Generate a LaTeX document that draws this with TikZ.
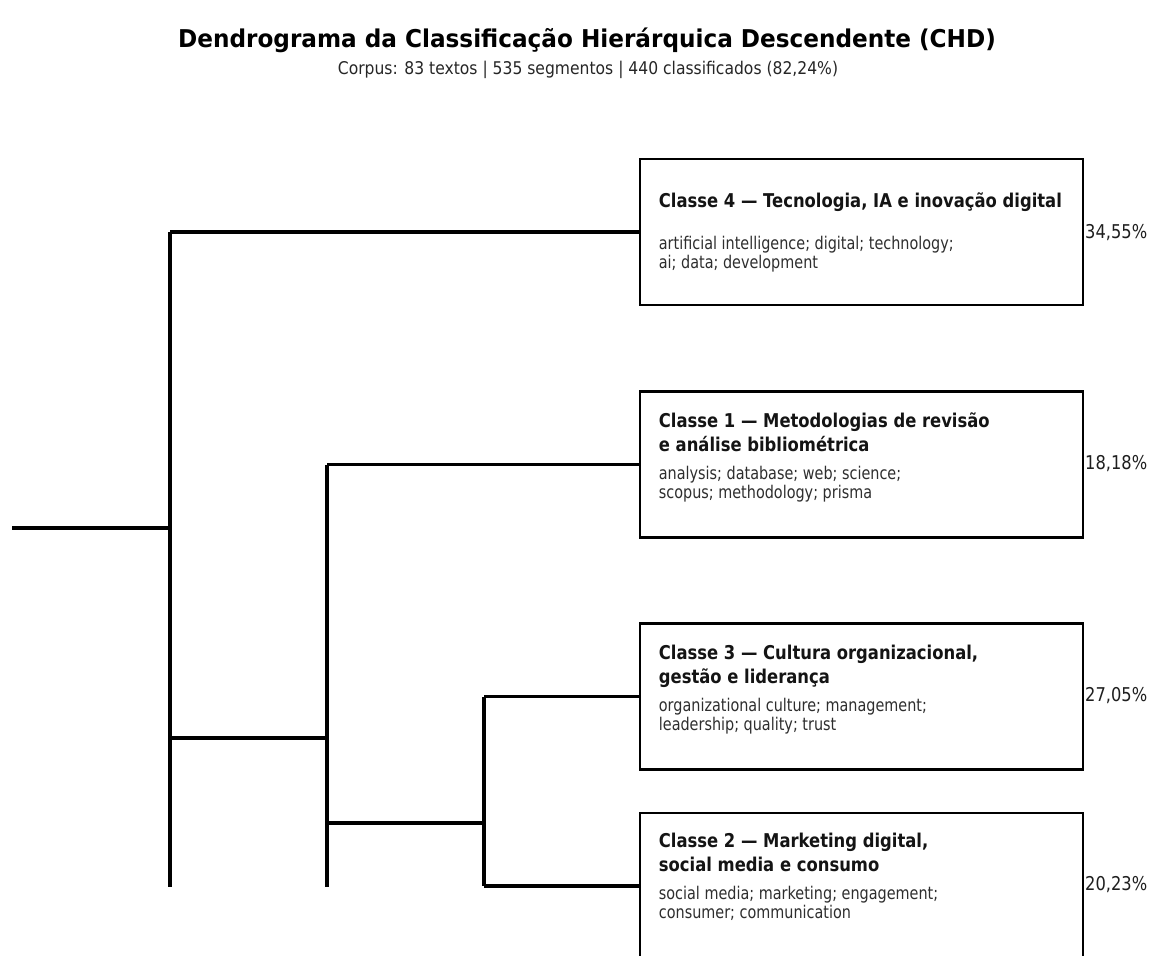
\documentclass[tikz,border=0pt]{standalone}
\usepackage{fontspec}
\setmainfont{DejaVu Sans}
\newfontfamily\titlefont[FakeStretch=0.945]{DejaVu Sans Bold}
\newfontfamily\subfont[FakeStretch=0.89]{DejaVu Sans}
\newfontfamily\boxtitlefont[FakeStretch=0.863]{DejaVu Sans Bold}
\newfontfamily\kwfont[FakeStretch=0.823]{DejaVu Sans}
\newfontfamily\pctfont[FakeStretch=0.856]{DejaVu Sans}
\usetikzlibrary{calc}
\begin{document}
\begin{tikzpicture}[x=1pt,y=-1pt,
  dend/.style={line width=3.1pt, line join=miter},
  clsbox/.style={draw, line width=2.6pt, fill=white, minimum width=443pt, minimum height=146pt, inner sep=0pt},
  ttl/.style={font=\boxtitlefont\fontsize{19}{23}\selectfont, anchor=base west, inner sep=0pt, text=black!92},
  kw/.style={font=\kwfont\fontsize{17.5}{20}\selectfont, anchor=base west, inner sep=0pt, text=black!82},
  pct/.style={font=\pctfont\fontsize{19}{23}\selectfont, anchor=west, inner sep=0pt, text=black!88},
  maintitle/.style={font=\titlefont\fontsize{24.5}{29}\selectfont, anchor=base, inner sep=0pt},
  subtitle/.style={font=\subfont\fontsize{17.5}{20}\selectfont, anchor=base, inner sep=0pt, text=black!85}
]
\useasboundingbox (0,0) rectangle (1152,956);
\clip (0,0) rectangle (1152,956);
\fill[white] (0,0) rectangle (1152,956);

\node[maintitle] (title) at (587,47) {Dendrograma da Classificação Hierárquica Descendente (CHD)};
\node[subtitle] (sub) at (588,74) {Corpus: 83 textos | 535 segmentos | 440 classificados (82,24\%)};

% class boxes
\node[clsbox] (c4) at (861.5,232) {};
\node[clsbox] (c1) at (861.5,464.5) {};
\node[clsbox] (c3) at (861.5,696.5) {};
\node[clsbox] (c2) at (861.5,886) {};

% junctions
\coordinate (root) at (12,528);
\coordinate (j1) at (170,528);
\coordinate (j1t) at (170,232);
\coordinate (j1b) at (170,887);
\coordinate (j1m) at (170,738);
\coordinate (j2m) at (327,738);
\coordinate (j2t) at (327,464.5);
\coordinate (j2b) at (327,887);
\coordinate (j2l) at (327,823);
\coordinate (j3m) at (484,823);
\coordinate (j3t) at (484,696.5);
\coordinate (j3b) at (484,886);

\draw[dend] (root) -- (j1);
\draw[dend] (j1t) -- (j1b);
\draw[dend] (j1t) -- (c4.west);
\draw[dend] (j1m) -- (j2m);
\draw[dend] (j2t) -- (j2b);
\draw[dend] (j2t) -- (c1.west);
\draw[dend] (j2l) -- (j3m);
\draw[dend] (j3t) -- (j3b);
\draw[dend] (j3t) -- (c3.west);
\draw[dend] (j3b) -- (c2.west);

% texts box 4
\node[ttl] (t4) at ($(c4.north west)+(20,50)$) {Classe 4 — Tecnologia, IA e inovação digital};
\node[kw] (k4a) at ($(c4.north west)+(20,92)$) {artificial intelligence; digital; technology;};
\node[kw] (k4b) at ($(c4.north west)+(20,111)$) {ai; data; development};

% box 1
\node[ttl] (t1a) at ($(c1.north west)+(20,37)$) {Classe 1 — Metodologias de revisão};
\node[ttl] (t1b) at ($(c1.north west)+(20,61)$) {e análise bibliométrica};
\node[kw] (k1a) at ($(c1.north west)+(20,89)$) {analysis; database; web; science;};
\node[kw] (k1b) at ($(c1.north west)+(20,108)$) {scopus; methodology; prisma};

% box 3
\node[ttl] (t3a) at ($(c3.north west)+(20,37)$) {Classe 3 — Cultura organizacional,};
\node[ttl] (t3b) at ($(c3.north west)+(20,61)$) {gestão e liderança};
\node[kw] (k3a) at ($(c3.north west)+(20,89)$) {organizational culture; management;};
\node[kw] (k3b) at ($(c3.north west)+(20,108)$) {leadership; quality; trust};

% box 2
\node[ttl] (t2a) at ($(c2.north west)+(20,36)$) {Classe 2 — Marketing digital,};
\node[ttl] (t2b) at ($(c2.north west)+(20,60)$) {social media e consumo};
\node[kw] (k2a) at ($(c2.north west)+(20,88)$) {social media; marketing; engagement;};
\node[kw] (k2b) at ($(c2.north west)+(20,107)$) {consumer; communication};

% percentages
\node[pct] (p4) at (1085,233) {34,55\%};
\node[pct] (p1) at (1085,464) {18,18\%};
\node[pct] (p3) at (1085,696) {27,05\%};
\node[pct] (p2) at (1085,885) {20,23\%};
\end{tikzpicture}
\end{document}
